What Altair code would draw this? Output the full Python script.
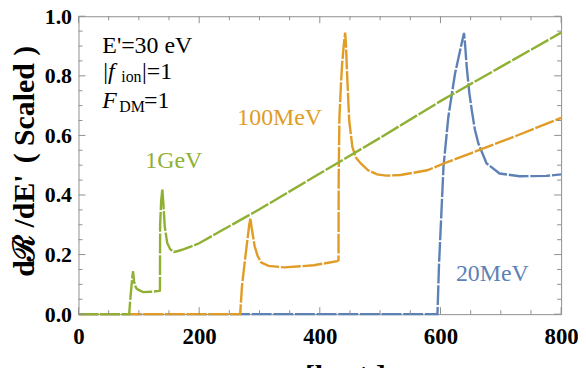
import altair as alt
import pandas as pd

# ---- data ----
series_names = ["20MeV", "100MeV", "1GeV"]
series_colors = ["#5E81B5", "#E09C24", "#8FB032"]

v_20mev = [0, 595, 597.5, 600, 605, 613, 624, 632, 639, 641, 643.6, 648, 652, 657, 663, 676.5, 698, 731, 775, 800]
y_20mev = [0, 0, 0.161, 0.272, 0.494, 0.661, 0.806, 0.88, 0.944, 0.9, 0.828, 0.74, 0.683, 0.62, 0.572, 0.506, 0.472, 0.463, 0.464, 0.469]

v_100mev = [0, 268, 271, 276, 280, 283, 285, 287, 292, 297, 303, 315, 341, 390, 429, 431, 431.3, 432.5, 435, 437, 440, 442,
            443.5, 445, 448.7, 454, 460, 468, 480, 495, 510, 534, 578, 611, 650, 720, 800]
y_100mev = [0, 0, 0.094, 0.183, 0.25, 0.3, 0.322, 0.29, 0.228, 0.195, 0.173, 0.162, 0.157, 0.164, 0.178, 0.181, 0.46, 0.66, 0.77, 0.84, 0.91, 0.945,
            0.9, 0.817, 0.65, 0.561, 0.525, 0.506, 0.483, 0.469, 0.465, 0.467, 0.483, 0.51, 0.54, 0.594, 0.659]

v_1gev = [0, 84, 85.6, 87.8, 89.5, 90.5, 92, 95, 98, 107, 120, 133, 135, 135.3, 137, 139, 141, 143, 147, 152, 158, 165, 175, 188,
          200, 235, 300, 400, 500, 600, 700, 800]
y_1gev = [0, 0, 0.044, 0.094, 0.13, 0.144, 0.11, 0.09, 0.083, 0.074, 0.075, 0.078, 0.079, 0.3, 0.38, 0.42, 0.36, 0.294, 0.239, 0.218, 0.209, 0.212, 0.218, 0.228,
          0.238, 0.278, 0.352, 0.472, 0.592, 0.715, 0.83, 0.945]

x_major = [0, 200, 400, 600, 800]
x_minor = [50, 100, 150, 250, 300, 350, 450, 500, 550, 650, 700, 750]
y_major = [0.0, 0.2, 0.4, 0.6, 0.8, 1.0]
y_minor = [0.05, 0.1, 0.15, 0.25, 0.3, 0.35, 0.45, 0.5, 0.55, 0.65, 0.7, 0.75, 0.85, 0.9, 0.95]

curve_labels = ["1GeV", "100MeV", "20MeV"]
curve_label_v = [158, 333.5, 686]
curve_label_y = [0.515, 0.657, 0.133]
curve_label_colors = ["#8FB032", "#E09C24", "#5E81B5"]

# info block pieces
info_normal_text = ["E'=30 eV", "|", "|=1", "=1"]
info_normal_v = [39.5, 41.2, 105.3, 108.6]
info_normal_y = [0.878, 0.791, 0.791, 0.691]
info_italic_text = ["f", "F"]
info_italic_v = [49.0, 39.5]
info_italic_y = [0.791, 0.691]
info_sub_text = ["ion", "DM"]
info_sub_v = [70.8, 67.5]
info_sub_y = [0.778, 0.68]

W, H = 486, 300
FRAME = "#8f8f8f"
FONT = "Liberation Serif"

rows = []
for name, vs, ys in [("20MeV", v_20mev, y_20mev), ("100MeV", v_100mev, y_100mev), ("1GeV", v_1gev, y_1gev)]:
    for i, (a, b) in enumerate(zip(vs, ys)):
        rows.append({"series": name, "v": a, "y": b, "idx": i})
df = pd.DataFrame(rows)

xscale = alt.Scale(domain=[0, 800], nice=False, zero=False)
yscale = alt.Scale(domain=[0, 1], nice=False, zero=False)

x_axis = alt.Axis(values=x_major, format="d", title=None, grid=False, domain=False, ticks=False,
                  labelFont=FONT, labelFontWeight="bold", labelFontSize=23, labelColor="black",
                  labelPadding=12, labelFlush=False)
y_axis = alt.Axis(values=y_major, format=".1f", title=None, grid=False, domain=False, ticks=False,
                  labelFont=FONT, labelFontWeight="bold", labelFontSize=22, labelColor="black",
                  labelPadding=7, labelFlush=False)


def X(field):
    return alt.X(field, scale=xscale, axis=x_axis)


def Y(field):
    return alt.Y(field, scale=yscale, axis=y_axis)


lines = alt.Chart(df).mark_line(strokeWidth=2.4, strokeDash=[20, 1.8], clip=False).encode(
    x=X("v:Q"),
    y=Y("y:Q"),
    color=alt.Color("series:N", scale=alt.Scale(domain=series_names, range=series_colors), legend=None),
    order=alt.Order("idx:Q"),
)


def xticks(vals, length):
    d = pd.DataFrame({"v": vals})
    b = alt.Chart(d).mark_rule(color=FRAME, strokeWidth=1).encode(
        x=X("v:Q"), y=alt.value(H), y2=alt.value(H - length))
    t = alt.Chart(d).mark_rule(color=FRAME, strokeWidth=1).encode(
        x=X("v:Q"), y=alt.value(0), y2=alt.value(length))
    return [b, t]


def yticks(vals, length):
    d = pd.DataFrame({"y": vals})
    l = alt.Chart(d).mark_rule(color=FRAME, strokeWidth=1).encode(
        y=Y("y:Q"), x=alt.value(0), x2=alt.value(length))
    r = alt.Chart(d).mark_rule(color=FRAME, strokeWidth=1).encode(
        y=Y("y:Q"), x=alt.value(W), x2=alt.value(W - length))
    return [l, r]


tick_layers = xticks(x_major, 7) + xticks(x_minor, 4) + yticks(y_major, 7) + yticks(y_minor, 4)

lab_df = pd.DataFrame({"text": curve_labels, "v": curve_label_v, "y": curve_label_y, "c": curve_label_colors})
curve_text = alt.Chart(lab_df).mark_text(font=FONT, fontSize=24, align="center", baseline="middle").encode(
    x=X("v:Q"), y=Y("y:Q"), text="text:N", color=alt.Color("c:N", scale=None))

n_df = pd.DataFrame({"text": info_normal_text, "v": info_normal_v, "y": info_normal_y})
i_df = pd.DataFrame({"text": info_italic_text, "v": info_italic_v, "y": info_italic_y})
s_df = pd.DataFrame({"text": info_sub_text, "v": info_sub_v, "y": info_sub_y})

info_n = alt.Chart(n_df).mark_text(font=FONT, fontSize=24, align="left", baseline="alphabetic", color="black").encode(
    x=X("v:Q"), y=Y("y:Q"), text="text:N")
info_i = alt.Chart(i_df).mark_text(font=FONT, fontSize=24, fontStyle="italic", align="left", baseline="alphabetic", color="black").encode(
    x=X("v:Q"), y=Y("y:Q"), text="text:N")
info_s = alt.Chart(s_df).mark_text(font=FONT, fontSize=16, align="left", baseline="alphabetic", color="black").encode(
    x=X("v:Q"), y=Y("y:Q"), text="text:N")


# axis titles, built from pieces so each piece keeps its own font
def title_piece(text, px, py, size=30, angle=0, align="center", baseline="middle", style="normal"):
    return alt.Chart(pd.DataFrame({"t": [text]})).mark_text(
        font=FONT, fontSize=size, fontWeight="bold", fontStyle=style, color="black",
        angle=angle, align=align, baseline=baseline).encode(
        text="t:N", x=alt.value(px), y=alt.value(py))


y_title = [
    title_piece("d", -54, 254, angle=270),
    title_piece("ℛ", -54, 233, angle=270),
    title_piece("/dE'", -54, 186, angle=270),
    title_piece("( Scaled )", -54, 89, angle=270),
]
x_title = [
    title_piece("v", 175, 372, align="left", baseline="alphabetic", style="italic"),
    title_piece("min", 189, 378, size=20, align="left", baseline="alphabetic"),
    title_piece("[km/s]", 228, 372, align="left", baseline="alphabetic"),
]

chart = alt.layer(lines, *tick_layers, curve_text, info_n, info_i, info_s, *y_title, *x_title).properties(
    width=W, height=H,
    padding={"left": 71, "top": 7, "right": 17, "bottom": 64},
    autosize=alt.AutoSizeParams(type="none"),
).configure_view(stroke=FRAME, strokeWidth=1)

chart.save("out.html", embed_options={"renderer": "svg", "actions": False})
